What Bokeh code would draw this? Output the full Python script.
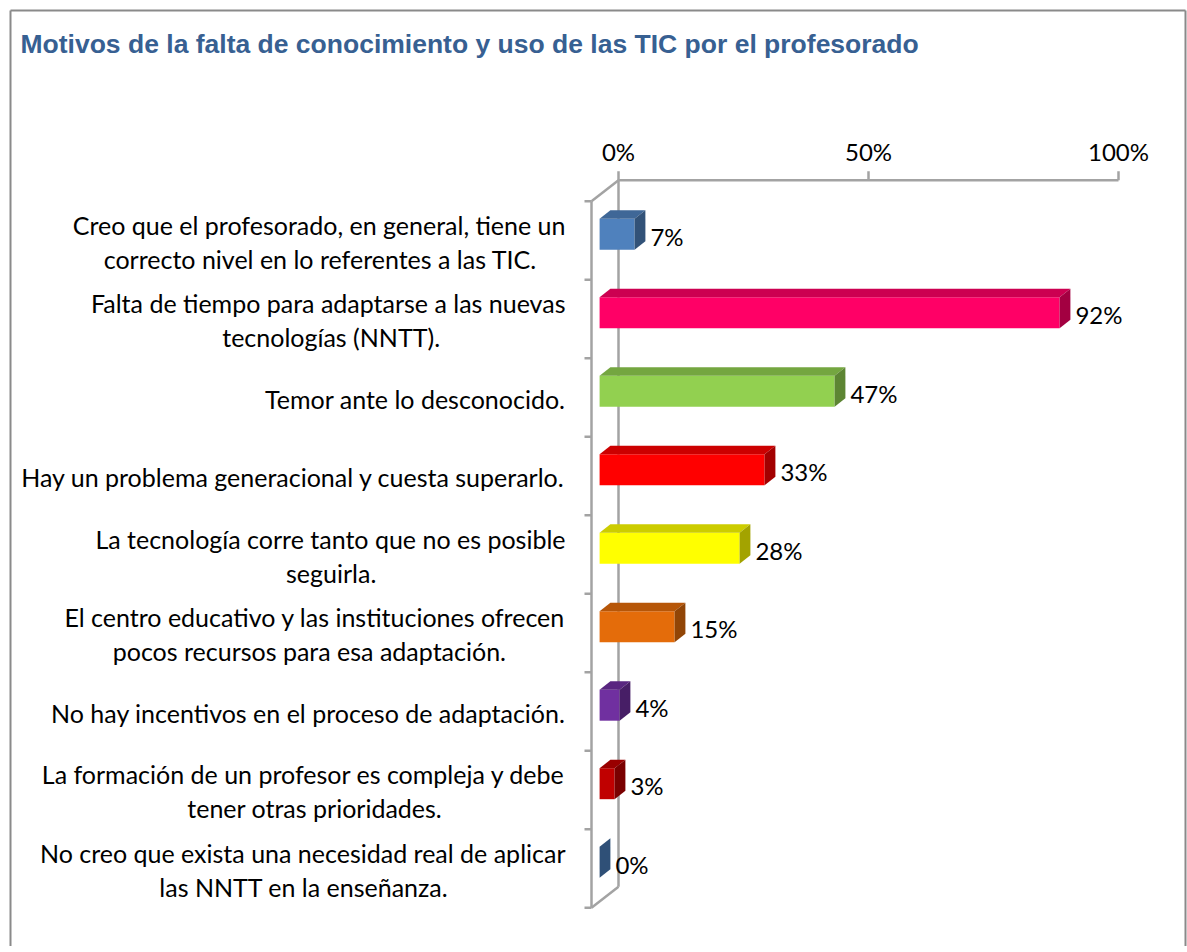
import numpy as np
from bokeh.plotting import figure
from bokeh.models import Range1d, ColumnDataSource
from bokeh.core.properties import value
from bokeh.embed import file_html
from bokeh.resources import INLINE

# ---------------- data ----------------
title = "Motivos de la falta de conocimiento y uso de las TIC por el profesorado"
categories = [
    "Creo que el profesorado, en general, tiene un\ncorrecto nivel en lo referentes a las TIC.",
    "Falta de tiempo para adaptarse a las nuevas\ntecnologías (NNTT).",
    "Temor ante lo desconocido.",
    "Hay un problema generacional y cuesta superarlo.",
    "La tecnología corre tanto que no es posible\nseguirla.",
    "El centro educativo y las instituciones ofrecen\npocos recursos para esa adaptación.",
    "No hay incentivos en el proceso de adaptación.",
    "La formación de un profesor es compleja y debe\ntener otras prioridades.",
    "No creo que exista una necesidad real de aplicar\nlas NNTT en la enseñanza.",
]
values = [7, 92, 47, 33, 28, 15, 4, 3, 0]
bar_colors = ["#4F81BD", "#FF0066", "#92D050", "#FF0000", "#FFFF00",
              "#E46C0A", "#7030A0", "#C00000", "#4A7EBB"]
ticks = [0, 50, 100]
tick_labels = ["0%", "50%", "100%"]

# ---------------- layout / style ----------------
W, H = 1187, 946
PX = 5.0        # pixels per percent
BAND = 78.5     # pixels per category
ORIGIN_X = 591  # pixel x of front-plane zero
ORIGIN_Y = 240  # pixel y of first category centre (front plane)
x_start = -ORIGIN_X / PX
x_end = x_start + W / PX
y_top = -ORIGIN_Y / BAND
y_bot = y_top + H / BAND


def px2x(d):
    return d / PX


def px2y(d):
    return d / BAND


DX, DY = px2x(27), px2y(-21)      # wall depth vector
F0, F1 = 0.3, 0.7                 # bar depth fraction
LABEL_FONT = "Lato"
CAT_SIZE = 25
NUM_SIZE = 24
CHAR_PX = 10.9
GRAY = "#A3A3A3"


def shade(hexcol, f):
    h = hexcol.lstrip("#")
    r, g, b = (int(h[i:i + 2], 16) for i in (0, 2, 4))
    return "#%02X%02X%02X" % (int(r * f), int(g * f), int(b * f))


p = figure(width=W, height=H, x_range=Range1d(x_start, x_end),
           y_range=Range1d(y_bot, y_top), output_backend="svg",
           toolbar_location=None, x_axis_location=None, y_axis_location=None,
           min_border_left=0, min_border_top=0, min_border_right=0,
           min_border_bottom=0)
p.outline_line_color = None
p.xgrid.grid_line_color = None
p.ygrid.grid_line_color = None
p.background_fill_color = "white"
p.border_fill_color = "white"

# chart border (left, top, right; bottom lies below the window)
bx0, bx1 = px2x(10 - ORIGIN_X), px2x(1185 - ORIGIN_X)
by0, by1 = px2y(10 - ORIGIN_Y), y_bot + 1
p.segment([bx0, bx0, bx1], [by1, by0, by0], [bx0, bx1, bx1], [by0, by0, by1],
          line_color="#8A8A8A", line_width=2)

n = len(values)
vals = np.array(values, dtype=float)
idx = np.arange(n)

# ---------------- walls ----------------
top_f, bot_f = -0.5, n - 0.5
sx0 = [0, DX, 0, 0, DX]
sy0 = [top_f, top_f + DY, top_f, bot_f, top_f + DY]
sx1 = [0, DX, DX, DX, DX + max(ticks)]
sy1 = [bot_f, bot_f + DY, top_f + DY, bot_f + DY, top_f + DY]
for t in ticks:
    sx0.append(DX + t); sy0.append(top_f + DY)
    sx1.append(DX + t); sy1.append(top_f + DY - px2y(9))
for k in range(n + 1):
    sx0.append(0); sy0.append(k - 0.5)
    sx1.append(-px2x(7)); sy1.append(k - 0.5)
p.segment(sx0, sy0, sx1, sy1, line_color=GRAY, line_width=2.5)

# tick labels
p.text([DX + t for t in ticks], [top_f + DY - px2y(29)] * len(ticks), text=tick_labels,
       text_align="center", text_baseline="middle", text_font=value(LABEL_FONT),
       text_font_size=f"{NUM_SIZE}px", text_color="black")

# ---------------- bars ----------------
half = px2y(15.5)
left = F0 * DX
right = left + vals
cy = idx + F0 * DY
btop = cy - half
bbot = cy + half
bdx, bdy = (F1 - F0) * DX, (F1 - F0) * DY

top_cols = [shade(c, 0.8) for c in bar_colors]
side_cols = [shade(c, 0.64) for c in bar_colors]

p.quad(left=[left] * n, right=right, top=btop, bottom=bbot,
       fill_color=bar_colors, line_color=None)
top_xs = [[left, r, r + bdx, left + bdx] for r in right]
top_ys = [[t, t, t + bdy, t + bdy] for t in btop]
p.patches(top_xs, top_ys, fill_color=top_cols, line_color=None)
side_xs = [[r, r + bdx, r + bdx, r] for r in right]
side_ys = [[t, t + bdy, b + bdy, b] for t, b in zip(btop, bbot)]
p.patches(side_xs, side_ys, fill_color=side_cols, line_color=None)

# value labels
p.text(right + bdx + px2x(5), cy + px2y(2), text=[f"{v}%" for v in values],
       text_align="left", text_baseline="middle", text_font=value(LABEL_FONT),
       text_font_size=f"{NUM_SIZE}px", text_color="black")

# ---------------- category labels ----------------
xr = px2x(565 - ORIGIN_X)
lx, ly, lt, la = [], [], [], []
for i, lab in enumerate(categories):
    lines = lab.split("\n")
    m = len(lines)
    longest = max(len(s) for s in lines)
    xc = xr - px2x(longest * CHAR_PX / 2)
    for j, s in enumerate(lines):
        off = (j - (m - 1) / 2) * 34 + 1
        ly.append(i + px2y(off))
        lt.append(s)
        if len(s) == longest:
            lx.append(xr); la.append("right")
        else:
            lx.append(xc); la.append("center")
src = ColumnDataSource(dict(x=lx, y=ly, text=lt, align=la))
p.text("x", "y", text="text", text_align="align", source=src,
       text_baseline="middle", text_font=value(LABEL_FONT),
       text_font_size=f"{CAT_SIZE}px", text_color="black")

# ---------------- title ----------------
p.text([px2x(20 - ORIGIN_X)], [px2y(43 - ORIGIN_Y)], text=[title], text_align="left",
       text_baseline="middle", text_font=value("Liberation Sans"),
       text_font_style="bold", text_font_size="26.5px", text_color="#376092")

open("out.html", "w").write(file_html(p, INLINE))
